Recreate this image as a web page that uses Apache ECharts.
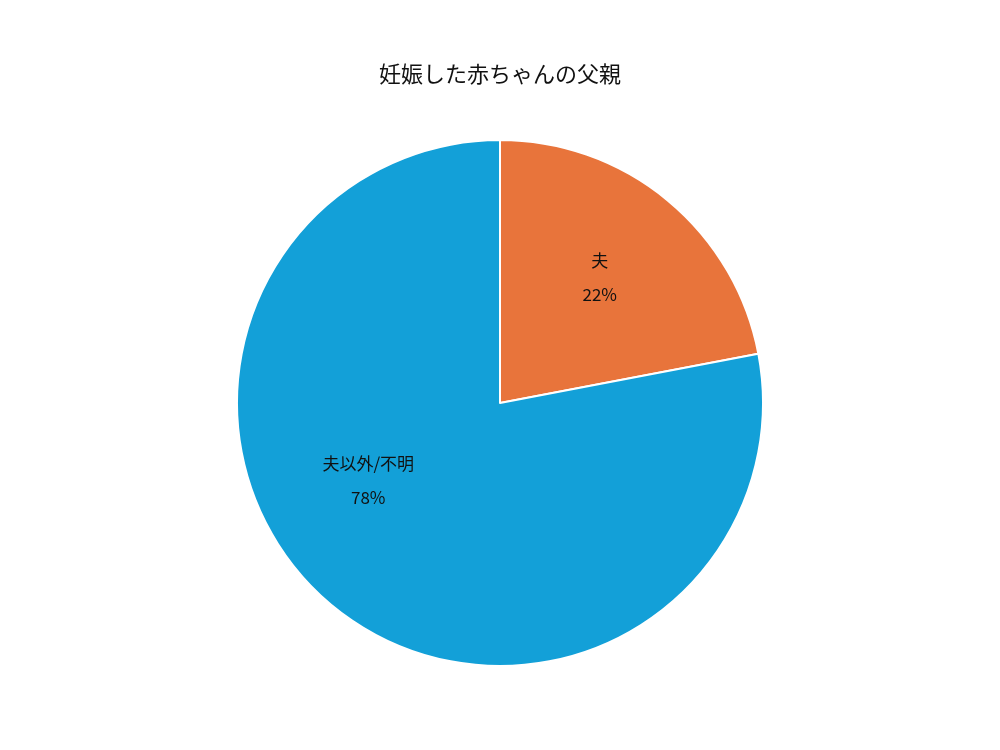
<!DOCTYPE html><html><head><meta charset="utf-8"><script src="https://cdn.jsdelivr.net/npm/echarts@6/dist/echarts.min.js"></script></head><body style="margin:0"><div id="c" style="width:1000px;height:750px"></div><script>
const categories=['夫','夫以外/不明'];
const values=[22,78];
const colors=['#E8743B','#13A0D8'];
const shifts=[[14,-22],[-46,-26]];
const ch=echarts.init(document.getElementById('c'));
ch.setOption({backgroundColor:'#fff',
title:{text:'妊娠した赤ちゃんの父親',left:'center',top:58,textStyle:{fontFamily:'Noto Sans CJK JP',fontSize:22,fontWeight:'normal',color:'#111'}},
series:[{type:'pie',center:[500,403],radius:263,startAngle:90,clockwise:true,animation:false,
itemStyle:{borderColor:'#fff',borderWidth:2},
label:{position:'inside',formatter:'{b}\n{d}%',fontSize:17,lineHeight:34,color:'#111',fontFamily:'Noto Sans CJK JP'},
labelLayout:p=>({dx:shifts[p.dataIndex][0],dy:shifts[p.dataIndex][1]}),
data:categories.map((n,i)=>({name:n,value:values[i],itemStyle:{color:colors[i]}}))}]});
</script></body></html>
